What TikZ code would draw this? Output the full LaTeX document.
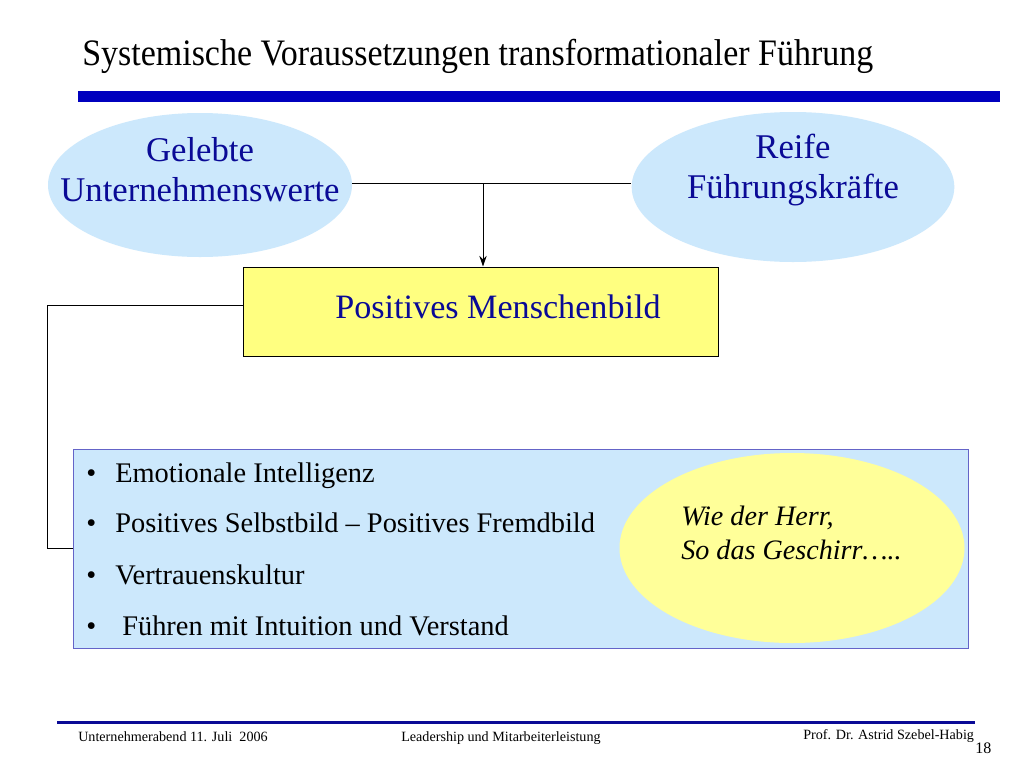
\documentclass[tikz,border=0pt]{standalone}
\usepackage{fontspec}
\setmainfont{Liberation Serif}
\newfontfamily\narrowfont[FakeStretch=0.91]{Liberation Serif}
\usetikzlibrary{shapes.geometric,arrows.meta}
\definecolor{lblue}{RGB}{204,232,252}
\definecolor{dblue}{RGB}{10,10,150}
\definecolor{ybox}{RGB}{255,255,128}
\definecolor{yell}{RGB}{255,255,153}
\definecolor{bborder}{RGB}{100,100,200}
\definecolor{bar}{RGB}{0,0,190}
\begin{document}
\begin{tikzpicture}[x=0.75pt,y=-0.75pt,
  cloud/.style={ellipse,fill=lblue,draw=none,inner sep=0pt},
  etext/.style={align=center,text=dblue,font=\fontsize{26}{30}\selectfont,inner sep=0pt},
  conn/.style={draw=black,line width=0.75pt},
  bul/.style={anchor=base west,inner sep=0pt,font=\fontsize{21.3}{25}\selectfont},
  foot/.style={anchor=base west,inner sep=0pt,font=\fontsize{10.6}{12}\selectfont}]
\useasboundingbox (0,0) rectangle (1024,768);
\fill[white] (0,0) rectangle (1024,768);
% title
\node[anchor=base west,inner sep=0pt,font=\narrowfont\fontsize{28}{34}\selectfont] (title) at (82,65.5) {Systemische Voraussetzungen transformationaler Führung};
\fill[bar] (78,91) rectangle (1000,102);
% ellipses
\node[cloud,minimum width=228pt,minimum height=108pt] (L) at (200,185) {};
\node[cloud,minimum width=242pt,minimum height=112.5pt] (R) at (793,187) {};
\node[etext] (Lt) at (200,169.5) {Gelebte\\Unternehmenswerte};
\node[etext] (Rt) at (793,170) {Reife\\Führungskräfte};
% yellow box
\node[rectangle,draw=black,line width=0.75pt,fill=ybox,minimum width=356.25pt,minimum height=66.75pt,inner sep=0pt] (mb) at (480.5,311.5) {};
\node[anchor=base,inner sep=0pt,text=dblue,font=\fontsize{25.6}{30}\selectfont] (mbt) at (498,318) {Positives Menschenbild};
% connectors
\coordinate (j) at (483,183);
\coordinate (c1) at (47,305);
\coordinate (c2) at (47,548);
\draw[conn] (L.east |- j) -- (R.west |- j);
\draw[conn,-{Stealth[length=8pt,width=5.5pt]}] (j) -- (mb.north -| j);
% blue box
\node[rectangle,draw=bborder,line width=0.75pt,fill=lblue,minimum width=671.25pt,minimum height=149.25pt,inner sep=0pt] (bb) at (520.5,548.5) {};
\draw[conn] (mb.west |- c1) -- (c1) -- (c2) -- (bb.west |- c2);
\node[ellipse,fill=yell,draw=none,minimum width=258.75pt,minimum height=142.5pt,inner sep=0pt] (Y) at (792,548) {};
% bullets
\node[bul] (b1) at (86,482) {•};
\node[bul] (t1) at (115,482) {Emotionale Intelligenz};
\node[bul] (b2) at (86,532) {•};
\node[bul] (t2) at (115,532) {Positives Selbstbild – Positives Fremdbild};
\node[bul] (b3) at (86,584) {•};
\node[bul] (t3) at (115,584) {Vertrauenskultur};
\node[bul] (b4) at (86,635) {•};
\node[bul] (t4) at (122,635) {Führen mit Intuition und Verstand};
% quote
\node[bul,font=\fontsize{21.1}{25}\selectfont\itshape] (q1) at (681,525) {Wie der Herr,};
\node[bul,font=\fontsize{21.1}{25}\selectfont\itshape] (q2) at (681,559) {So das Geschirr…..};
% footer
\fill[dblue] (57,720.5) rectangle (975,723.5);
\node[foot] (f1) at (78,741) {Unternehmerabend 11. Juli\ \ 2006};
\node[foot] (f2) at (401,741) {Leadership und Mitarbeiterleistung};
\node[foot] (f3) at (803,739) {Prof. Dr. Astrid Szebel-Habig};
\node[foot,font=\fontsize{12}{14}\selectfont] (f4) at (975,753) {18};
\end{tikzpicture}
\end{document}
